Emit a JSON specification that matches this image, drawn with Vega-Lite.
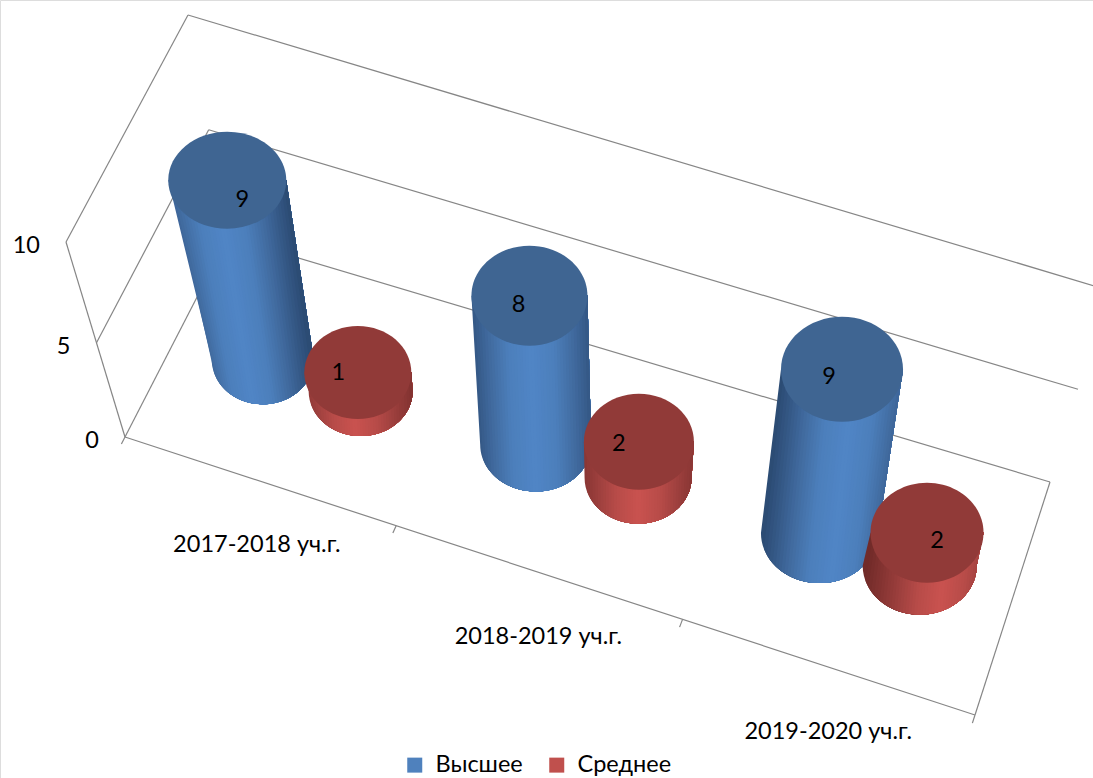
{
"$schema":"https://vega.github.io/schema/vega-lite/v6.json",
"width":1093,"height":778,"autosize":"none","padding":0,
"background":"white",
"datasets":{
"bars":[
{"year":"2017-2018 уч.г.","series":"Высшее","value":9},
{"year":"2018-2019 уч.г.","series":"Высшее","value":8},
{"year":"2019-2020 уч.г.","series":"Высшее","value":9},
{"year":"2017-2018 уч.г.","series":"Среднее","value":1},
{"year":"2018-2019 уч.г.","series":"Среднее","value":2},
{"year":"2019-2020 уч.г.","series":"Среднее","value":2}],
"frame":[
{"u":0,"v":0,"w":0,"u2":3,"v2":0,"w2":0},
{"u":3,"v":0,"w":0,"u2":3,"v2":1,"w2":0},
{"u":0,"v":1,"w":0,"u2":3,"v2":1,"w2":0},
{"u":0,"v":0,"w":0,"u2":0,"v2":1,"w2":0},
{"u":0,"v":1,"w":5,"u2":3,"v2":1,"w2":5},
{"u":0,"v":1,"w":10,"u2":3,"v2":1,"w2":10},
{"u":0,"v":0,"w":5,"u2":0,"v2":1,"w2":5},
{"u":0,"v":0,"w":10,"u2":0,"v2":1,"w2":10},
{"u":0,"v":0,"w":0,"u2":0,"v2":0,"w2":10},
{"u":0,"v":0,"w":0,"u2":0,"v2":-0.035,"w2":0},
{"u":1,"v":0,"w":0,"u2":1,"v2":-0.035,"w2":0},
{"u":2,"v":0,"w":0,"u2":2,"v2":-0.035,"w2":0},
{"u":3,"v":0,"w":0,"u2":3,"v2":-0.035,"w2":0}],
"ticks":[{"tick":0},{"tick":5},{"tick":10}],
"cats":[{"year":"2017-2018 уч.г.","u":0.5},{"year":"2018-2019 уч.г.","u":1.5},{"year":"2019-2020 уч.г.","u":2.5}]
},
"resolve":{"scale":{"fill":"independent"}},
"layer":[
{"data":{"name":"frame"},
 "transform":[
 {"calculate":"pow(datum.u/3,1.04)","as":"U"},{"calculate":"datum.v","as":"V"},{"calculate":"pow(datum.w/10,1.05)","as":"W"},
 {"calculate":"pow(datum.u2/3,1.04)","as":"U2"},{"calculate":"datum.v2","as":"V2"},{"calculate":"pow(datum.w2/10,1.05)","as":"W2"},
 {"calculate":"125+850*datum.U+103*datum.V-28*datum.U*datum.V+datum.W*(-59+114*datum.U+19*datum.V-16*datum.U*datum.V)","as":"px"},
 {"calculate":"437+278*datum.U-200*datum.V-33*datum.U*datum.V+datum.W*(-195+5*datum.U-27*datum.V+25*datum.U*datum.V)","as":"py"},
 {"calculate":"125+850*datum.U2+103*datum.V2-28*datum.U2*datum.V2+datum.W2*(-59+114*datum.U2+19*datum.V2-16*datum.U2*datum.V2)","as":"px2"},
 {"calculate":"437+278*datum.U2-200*datum.V2-33*datum.U2*datum.V2+datum.W2*(-195+5*datum.U2-27*datum.V2+25*datum.U2*datum.V2)","as":"py2"}],
 "mark":{"type":"rule","stroke":"#868686","strokeWidth":1.2,"clip":true},
 "encoding":{
  "x":{"field":"px","type":"quantitative","scale":{"domain":[0,1093],"nice":false,"zero":false},"axis":null},
  "y":{"field":"py","type":"quantitative","scale":{"domain":[0,778],"nice":false,"zero":false,"reverse":true},"axis":null},
  "x2":{"field":"px2"},"y2":{"field":"py2"}}},
{"data":{"name":"bars"},
 "transform":[
 {"filter":"datum.series==='Высшее'"},
 {"calculate":"indexof(['2017-2018 уч.г.','2018-2019 уч.г.','2019-2020 уч.г.'],datum.year)","as":"i"},
 {"calculate":"pow((datum.i+[0.33,0.325,0.325][datum.i])/3,1.04)","as":"U"},{"calculate":"0.52","as":"V"},
 {"calculate":"125+850*datum.U+103*datum.V-28*datum.U*datum.V","as":"bx"},
 {"calculate":"437+278*datum.U-200*datum.V-33*datum.U*datum.V","as":"by"},
 {"calculate":"datum.bx+datum.value/10*(-59+105*datum.U+19*datum.V-16*datum.U*datum.V)","as":"tx"},
 {"calculate":"datum.by-datum.value/10*[199,186,182][datum.i]","as":"ty"},
 {"calculate":"[59,58,61][datum.i]","as":"rx"},{"calculate":"[51,55.5,58.5][datum.i]","as":"rxb"},{"calculate":"[45,47,50][datum.i]","as":"ryb"},
 {"calculate":"[-1,-0.95,-0.9,-0.85,-0.8,-0.75,-0.7,-0.65,-0.6,-0.55,-0.5,-0.45,-0.4,-0.35,-0.3,-0.25,-0.2,-0.15,-0.1,-0.05,0,0.05,0.1,0.15,0.2,0.25,0.3,0.35,0.4,0.45,0.5,0.55,0.6,0.65,0.7,0.75,0.8,0.85,0.9,0.95]","as":"t"},
 {"flatten":["t"]},
 {"calculate":"'M'+(datum.tx+datum.t*datum.rx-datum.bx)+','+(datum.ty-datum.by)+'L'+(datum.tx+datum.rx-datum.bx)+','+(datum.ty-datum.by)+'L'+datum.rxb+',0A'+datum.rxb+','+datum.ryb+' 0 0 1 '+(datum.t*datum.rxb)+','+(datum.ryb*sqrt(1-datum.t*datum.t))+'Z'","as":"p"},
 {"calculate":"abs(datum.t+0.025-[-0.2,0,0.2][datum.i])","as":"sh"}],
 "mark":{"type":"point","filled":true,"opacity":1,"strokeWidth":0,"size":4},
 "encoding":{
  "x":{"field":"bx","type":"quantitative","scale":{"domain":[0,1093],"nice":false,"zero":false},"axis":null},
  "y":{"field":"by","type":"quantitative","scale":{"domain":[0,778],"nice":false,"zero":false,"reverse":true},"axis":null},
  "shape":{"field":"p","type":"nominal","scale":null,"legend":null},
  "fill":{"field":"sh","type":"quantitative","scale":{"domain":[0,0.4,0.75,1.2],"range":["#5085c6","#4c7fbb","#40699d","#2b4a72"]},"legend":null}}},
{"data":{"name":"bars"},
 "transform":[
 {"filter":"datum.series==='Высшее'"},
 {"calculate":"indexof(['2017-2018 уч.г.','2018-2019 уч.г.','2019-2020 уч.г.'],datum.year)","as":"i"},
 {"calculate":"pow((datum.i+[0.33,0.325,0.325][datum.i])/3,1.04)","as":"U"},{"calculate":"0.52","as":"V"},
 {"calculate":"125+850*datum.U+103*datum.V-28*datum.U*datum.V","as":"bx"},
 {"calculate":"437+278*datum.U-200*datum.V-33*datum.U*datum.V","as":"by"},
 {"calculate":"datum.bx+datum.value/10*(-59+105*datum.U+19*datum.V-16*datum.U*datum.V)","as":"tx"},
 {"calculate":"datum.by-datum.value/10*[199,186,182][datum.i]","as":"ty"},
 {"calculate":"[59,58,61][datum.i]","as":"rx"},{"calculate":"[48.5,50,52.5][datum.i]","as":"ry"},
 {"calculate":"4*datum.rx*datum.rx","as":"sz"},
 {"calculate":"'M-1,0A1,'+(datum.ry/datum.rx)+' 0 1,1 1,0A1,'+(datum.ry/datum.rx)+' 0 1,1 -1,0Z'","as":"p"}],
 "mark":{"type":"point","filled":true,"opacity":1,"fill":"#3f6592","strokeWidth":0},
 "encoding":{
  "x":{"field":"tx","type":"quantitative","scale":{"domain":[0,1093],"nice":false,"zero":false},"axis":null},
  "y":{"field":"ty","type":"quantitative","scale":{"domain":[0,778],"nice":false,"zero":false,"reverse":true},"axis":null},
  "size":{"field":"sz","type":"quantitative","scale":null,"legend":null},
  "shape":{"field":"p","type":"nominal","scale":null,"legend":null}}},
{"data":{"name":"bars"},
 "transform":[
 {"filter":"datum.series==='Среднее'"},
 {"calculate":"indexof(['2017-2018 уч.г.','2018-2019 уч.г.','2019-2020 уч.г.'],datum.year)","as":"i"},
 {"calculate":"pow((datum.i+[0.695,0.69,0.675][datum.i])/3,1.04)","as":"U"},{"calculate":"0.515","as":"V"},
 {"calculate":"125+850*datum.U+103*datum.V-28*datum.U*datum.V","as":"bx"},
 {"calculate":"437+278*datum.U-200*datum.V-33*datum.U*datum.V","as":"by"},
 {"calculate":"datum.bx+datum.value/10*(-59+105*datum.U+19*datum.V-16*datum.U*datum.V)","as":"tx"},
 {"calculate":"datum.by-datum.value/10*[185,180,165][datum.i]","as":"ty"},
 {"calculate":"[53.5,55,56.5][datum.i]","as":"rx"},{"calculate":"[52,53.5,57][datum.i]","as":"rxb"},{"calculate":"[45,46,49][datum.i]","as":"ryb"},
 {"calculate":"[-1,-0.95,-0.9,-0.85,-0.8,-0.75,-0.7,-0.65,-0.6,-0.55,-0.5,-0.45,-0.4,-0.35,-0.3,-0.25,-0.2,-0.15,-0.1,-0.05,0,0.05,0.1,0.15,0.2,0.25,0.3,0.35,0.4,0.45,0.5,0.55,0.6,0.65,0.7,0.75,0.8,0.85,0.9,0.95]","as":"t"},
 {"flatten":["t"]},
 {"calculate":"'M'+(datum.tx+datum.t*datum.rx-datum.bx)+','+(datum.ty-datum.by)+'L'+(datum.tx+datum.rx-datum.bx)+','+(datum.ty-datum.by)+'L'+datum.rxb+',0A'+datum.rxb+','+datum.ryb+' 0 0 1 '+(datum.t*datum.rxb)+','+(datum.ryb*sqrt(1-datum.t*datum.t))+'Z'","as":"p"},
 {"calculate":"abs(datum.t+0.025-[-0.1,0,0.35][datum.i])","as":"sh"}],
 "mark":{"type":"point","filled":true,"opacity":1,"strokeWidth":0,"size":4},
 "encoding":{
  "x":{"field":"bx","type":"quantitative","scale":{"domain":[0,1093],"nice":false,"zero":false},"axis":null},
  "y":{"field":"by","type":"quantitative","scale":{"domain":[0,778],"nice":false,"zero":false,"reverse":true},"axis":null},
  "shape":{"field":"p","type":"nominal","scale":null,"legend":null},
  "fill":{"field":"sh","type":"quantitative","scale":{"domain":[0,0.4,0.75,1.2],"range":["#c9524f","#b84c49","#9c3f3d","#7a2f2d"]},"legend":null}}},
{"data":{"name":"bars"},
 "transform":[
 {"filter":"datum.series==='Среднее'"},
 {"calculate":"indexof(['2017-2018 уч.г.','2018-2019 уч.г.','2019-2020 уч.г.'],datum.year)","as":"i"},
 {"calculate":"pow((datum.i+[0.695,0.69,0.675][datum.i])/3,1.04)","as":"U"},{"calculate":"0.515","as":"V"},
 {"calculate":"125+850*datum.U+103*datum.V-28*datum.U*datum.V","as":"bx"},
 {"calculate":"437+278*datum.U-200*datum.V-33*datum.U*datum.V","as":"by"},
 {"calculate":"datum.bx+datum.value/10*(-59+105*datum.U+19*datum.V-16*datum.U*datum.V)","as":"tx"},
 {"calculate":"datum.by-datum.value/10*[185,180,165][datum.i]","as":"ty"},
 {"calculate":"[53.5,55,56.5][datum.i]","as":"rx"},{"calculate":"[46.5,48,50][datum.i]","as":"ry"},
 {"calculate":"4*datum.rx*datum.rx","as":"sz"},
 {"calculate":"'M-1,0A1,'+(datum.ry/datum.rx)+' 0 1,1 1,0A1,'+(datum.ry/datum.rx)+' 0 1,1 -1,0Z'","as":"p"}],
 "mark":{"type":"point","filled":true,"opacity":1,"fill":"#913a38","strokeWidth":0},
 "encoding":{
  "x":{"field":"tx","type":"quantitative","scale":{"domain":[0,1093],"nice":false,"zero":false},"axis":null},
  "y":{"field":"ty","type":"quantitative","scale":{"domain":[0,778],"nice":false,"zero":false,"reverse":true},"axis":null},
  "size":{"field":"sz","type":"quantitative","scale":null,"legend":null},
  "shape":{"field":"p","type":"nominal","scale":null,"legend":null}}},
{"data":{"name":"bars"},
 "transform":[
 {"calculate":"indexof(['2017-2018 уч.г.','2018-2019 уч.г.','2019-2020 уч.г.'],datum.year)","as":"i"},
 {"calculate":"datum.series==='Высшее'","as":"b"},
 {"calculate":"pow((datum.i+(datum.b?[0.33,0.325,0.325]:[0.695,0.69,0.675])[datum.i])/3,1.04)","as":"U"},{"calculate":"datum.b?0.52:0.515","as":"V"},
 {"calculate":"125+850*datum.U+103*datum.V-28*datum.U*datum.V","as":"bx"},
 {"calculate":"437+278*datum.U-200*datum.V-33*datum.U*datum.V","as":"by"},
 {"calculate":"datum.bx+datum.value/10*(-59+105*datum.U+19*datum.V-16*datum.U*datum.V)+(datum.b?[15,-11,-13]:[-19.5,-20,10])[datum.i]","as":"lx"},
 {"calculate":"datum.by-datum.value/10*(datum.b?[199,186,182]:[185,180,165])[datum.i]+(datum.b?[20,9,8]:[0.5,2,8])[datum.i]","as":"ly"}],
 "mark":{"type":"text","font":"Lato","fontSize":23.5,"color":"#000000","align":"center","baseline":"middle"},
 "encoding":{
  "x":{"field":"lx","type":"quantitative","scale":{"domain":[0,1093],"nice":false,"zero":false},"axis":null},
  "y":{"field":"ly","type":"quantitative","scale":{"domain":[0,778],"nice":false,"zero":false,"reverse":true},"axis":null},
  "text":{"field":"value","type":"quantitative"}}},
{"data":{"name":"ticks"},
 "transform":[
 {"calculate":"pow(datum.tick/10,1.05)","as":"W"},
 {"calculate":"125-59*datum.W","as":"px"},
 {"calculate":"437-195*datum.W","as":"py"}],
 "mark":{"type":"text","font":"Lato","fontSize":23.5,"color":"#000000","align":"right","baseline":"middle","dx":-26,"dy":4},
 "encoding":{
  "x":{"field":"px","type":"quantitative","scale":{"domain":[0,1093],"nice":false,"zero":false},"axis":null},
  "y":{"field":"py","type":"quantitative","scale":{"domain":[0,778],"nice":false,"zero":false,"reverse":true},"axis":null},
  "text":{"field":"tick","type":"quantitative"}}},
{"data":{"name":"cats"},
 "transform":[
 {"calculate":"pow(datum.u/3,1.04)","as":"U"},
 {"calculate":"125+850*datum.U","as":"px"},
 {"calculate":"437+278*datum.U","as":"py"}],
 "mark":{"type":"text","font":"Lato","fontSize":23.5,"color":"#000000","align":"center","baseline":"middle","dy":65},
 "encoding":{
  "x":{"field":"px","type":"quantitative","scale":{"domain":[0,1093],"nice":false,"zero":false},"axis":null},
  "y":{"field":"py","type":"quantitative","scale":{"domain":[0,778],"nice":false,"zero":false,"reverse":true},"axis":null},
  "text":{"field":"year","type":"nominal"}}},
{"data":{"name":"bars"},
 "mark":{"type":"square","size":0,"filled":true,"opacity":1},
 "encoding":{
  "x":{"datum":0,"type":"quantitative","scale":{"domain":[0,1093],"nice":false,"zero":false},"axis":null},
  "y":{"datum":0,"type":"quantitative","scale":{"domain":[0,778],"nice":false,"zero":false,"reverse":true},"axis":null},
  "fill":{"field":"series","type":"nominal","scale":{"domain":["Высшее","Среднее"],"range":["#4f81bd","#c0504d"]},
   "legend":{"title":null,"orient":"none","legendX":403,"legendY":753,"direction":"horizontal","columns":2,"symbolType":"square","symbolSize":225,"symbolStrokeWidth":0,"labelFont":"Lato","labelFontSize":23.5,"labelColor":"#000000","labelOffset":9,"columnPadding":22,"padding":0}}}}
]
}
